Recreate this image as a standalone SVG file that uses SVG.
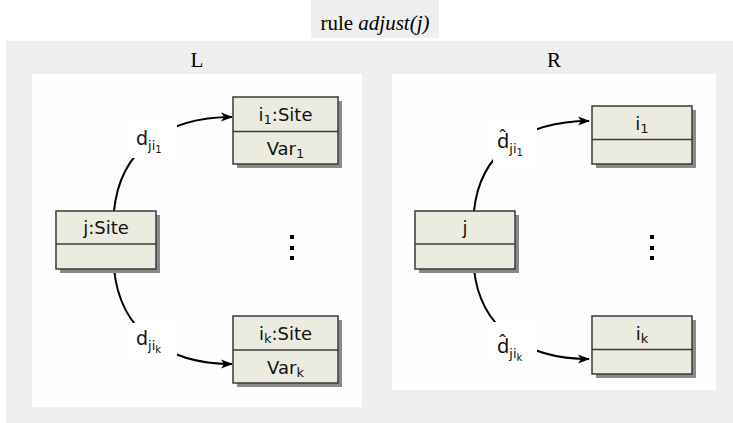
<svg xmlns="http://www.w3.org/2000/svg" width="733" height="423" viewBox="0 0 733 423">
<defs>
<style>
.bg{fill:#efefef}
.panel{fill:#fefefe}
.ttl{font-family:"Liberation Serif",serif;font-size:21px;fill:#000}
.shadow{fill:#8a8a8a}
.box{fill:#ecebdf;stroke:#3a3a3a;stroke-width:1.5}
.div{stroke:#3a3a3a;stroke-width:1.5}
.t{font-family:"DejaVu Sans","Liberation Sans",sans-serif;font-size:18px;fill:#111;text-anchor:middle}
.lbl{font-family:"DejaVu Sans","Liberation Sans",sans-serif;font-size:19px;fill:#111}
.dh{font-family:"Noto Sans","Open Sans",sans-serif;font-size:20px}
.lblbg{fill:#ffffff}
.edge{fill:none;stroke:#000;stroke-width:2}
.dot{fill:#000}
</style>
<marker id="arr" viewBox="0 0 12 10" refX="11" refY="5" markerWidth="12" markerHeight="10" markerUnits="userSpaceOnUse" orient="auto">
<path d="M0,0.5 L12,5 L0,9.5 L3,5 Z" fill="#000"/>
</marker>
</defs>

<rect class="bg" x="311" y="0" width="128" height="38"/>
<text class="ttl" x="375" y="30" text-anchor="middle">rule <tspan font-style="italic">adjust(j)</tspan></text>
<rect class="bg" x="6" y="41" width="727" height="382"/>

<rect class="panel" x="32" y="74" width="330" height="333"/>
<text class="ttl" x="197" y="67" text-anchor="middle">L</text>
<rect class="panel" x="392" y="74" width="324" height="316"/>
<text class="ttl" x="554" y="67" text-anchor="middle">R</text>

<g id="connectors">
<path class="edge" d="M114,211 C120,150 165,117 232,117" marker-end="url(#arr)"/>
<path class="edge" d="M114,269 C120,330 165,364 232,364" marker-end="url(#arr)"/>
<path class="edge" d="M474,211 C480,152 525,121 589,121" marker-end="url(#arr)"/>
<path class="edge" d="M474,269 C480,328 525,359 589,359" marker-end="url(#arr)"/>
<rect class="lblbg" x="132" y="123" width="45" height="35"/>
<text class="lbl" x="136" y="145">d<tspan font-size="13" dy="5">ji</tspan><tspan font-size="10" dy="2.5">1</tspan></text>
<rect class="lblbg" x="132" y="323" width="45" height="35"/>
<text class="lbl" x="136" y="345">d<tspan font-size="13" dy="5">ji</tspan><tspan font-size="10" dy="2.5">k</tspan></text>
<rect class="lblbg" x="493" y="121" width="44" height="41"/>
<text class="lbl" x="497" y="148"><tspan class="dh">d̂</tspan><tspan font-size="13" dy="5">ji</tspan><tspan font-size="10" dy="2.5">1</tspan></text>
<rect class="lblbg" x="493" y="322" width="44" height="36"/>
<text class="lbl" x="497" y="353"><tspan class="dh">d̂</tspan><tspan font-size="13" dy="5">ji</tspan><tspan font-size="10" dy="2.5">k</tspan></text>
</g>

<g id="L-j">
<rect class="shadow" x="60" y="215" width="100" height="58"/>
<rect class="box" x="56" y="211" width="100" height="58"/>
<line class="div" x1="56" y1="244" x2="156" y2="244"/>
<text class="t" x="106" y="234">j:Site</text>
</g>
<g id="L-i1">
<rect class="shadow" x="237" y="101" width="105" height="67"/>
<rect class="box" x="233" y="97" width="105" height="67"/>
<line class="div" x1="233" y1="131.5" x2="338" y2="131.5"/>
<text class="t" x="285.5" y="121">i<tspan font-size="13" dy="3">1</tspan><tspan dy="-3">:Site</tspan></text>
<text class="t" x="285.5" y="155">Var<tspan font-size="13" dy="3">1</tspan></text>
</g>
<g id="L-ik">
<rect class="shadow" x="237" y="320" width="105" height="67"/>
<rect class="box" x="233" y="316" width="105" height="67"/>
<line class="div" x1="233" y1="350" x2="338" y2="350"/>
<text class="t" x="285.5" y="340">i<tspan font-size="13" dy="3">k</tspan><tspan dy="-3">:Site</tspan></text>
<text class="t" x="285.5" y="374">Var<tspan font-size="13" dy="3">k</tspan></text>
</g>
<g id="L-dots">
<rect class="dot" x="290" y="235" width="4" height="4"/>
<rect class="dot" x="290" y="246" width="4" height="4"/>
<rect class="dot" x="290" y="256" width="4" height="4"/>
</g>

<g id="R-j">
<rect class="shadow" x="419" y="215" width="100" height="58"/>
<rect class="box" x="415" y="211" width="100" height="58"/>
<line class="div" x1="415" y1="244" x2="515" y2="244"/>
<text class="t" x="465" y="234">j</text>
</g>
<g id="R-i1">
<rect class="shadow" x="596" y="110" width="100" height="58"/>
<rect class="box" x="592" y="106" width="100" height="58"/>
<line class="div" x1="592" y1="139.5" x2="692" y2="139.5"/>
<text class="t" x="642" y="130">i<tspan font-size="13" dy="3">1</tspan></text>
</g>
<g id="R-ik">
<rect class="shadow" x="596" y="320" width="100" height="58"/>
<rect class="box" x="592" y="316" width="100" height="58"/>
<line class="div" x1="592" y1="349.5" x2="692" y2="349.5"/>
<text class="t" x="642" y="340">i<tspan font-size="13" dy="3">k</tspan></text>
</g>
<g id="R-dots">
<rect class="dot" x="650" y="235" width="4" height="4"/>
<rect class="dot" x="650" y="246" width="4" height="4"/>
<rect class="dot" x="650" y="256" width="4" height="4"/>
</g>
</svg>
